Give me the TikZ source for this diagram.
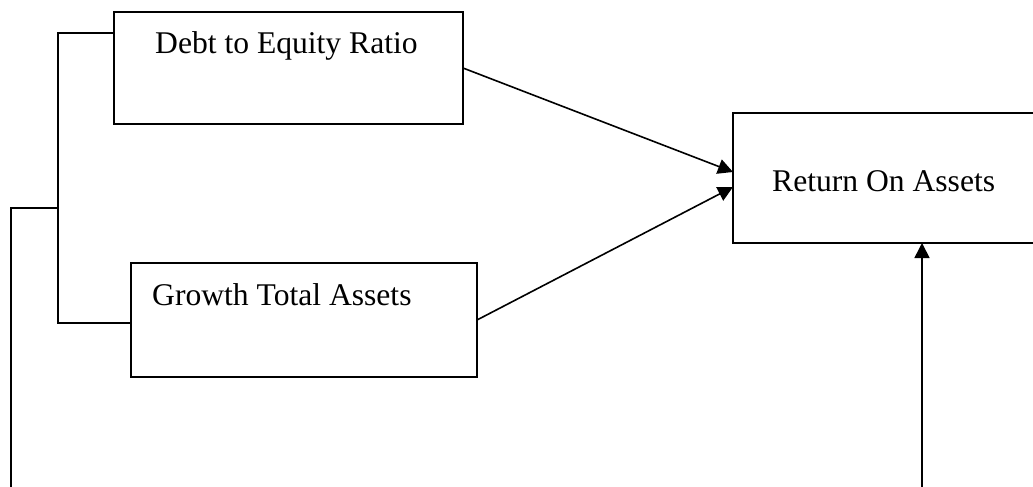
\documentclass[tikz,border=0pt]{standalone}
\usepackage{fontspec}
\setmainfont{Liberation Serif}
\usetikzlibrary{arrows.meta}
\begin{document}
\begin{tikzpicture}[x=1pt,y=-1pt,
  box/.style={draw,line width=1.6pt,inner sep=0pt,outer sep=0pt,anchor=north west},
  lbl/.style={anchor=base west,inner sep=0pt,font=\fontsize{31.6}{36}\selectfont},
  conn/.style={line width=1.6pt},
  arr/.style={line width=1.6pt,-{Triangle[length=15pt,width=15pt]}}]
\useasboundingbox (0,0) rectangle (1033,487);
\clip (0,0) rectangle (1033,487);
\node[box,minimum width=349pt,minimum height=112pt] (debt) at (114,12) {};
\node[box,minimum width=346pt,minimum height=114pt] (growth) at (131,263) {};
\node[box,minimum width=320pt,minimum height=130pt] (roa) at (733,113) {};
\node[lbl] (tdebt) at (155,53) {Debt to Equity Ratio};
\node[lbl] (tgrowth) at (152,305) {Growth Total Assets};
\node[lbl] (troa) at (772,191) {Return On Assets};
\coordinate (j) at (58,208);
\coordinate (lb) at (11,495);
\coordinate (rb) at (922,495);
\draw[conn] (debt.west |- 0,33) -- (58,33) -- (58,323) -- (growth.west |- 0,323);
\draw[conn] (j) -- (11,208) -- (lb);
\draw[arr] (debt.east) -- (roa.west |- 0,172);
\draw[arr] (growth.east) -- (roa.west |- 0,187);
\draw[arr] (rb) -- (roa.south -| rb);
\end{tikzpicture}
\end{document}
